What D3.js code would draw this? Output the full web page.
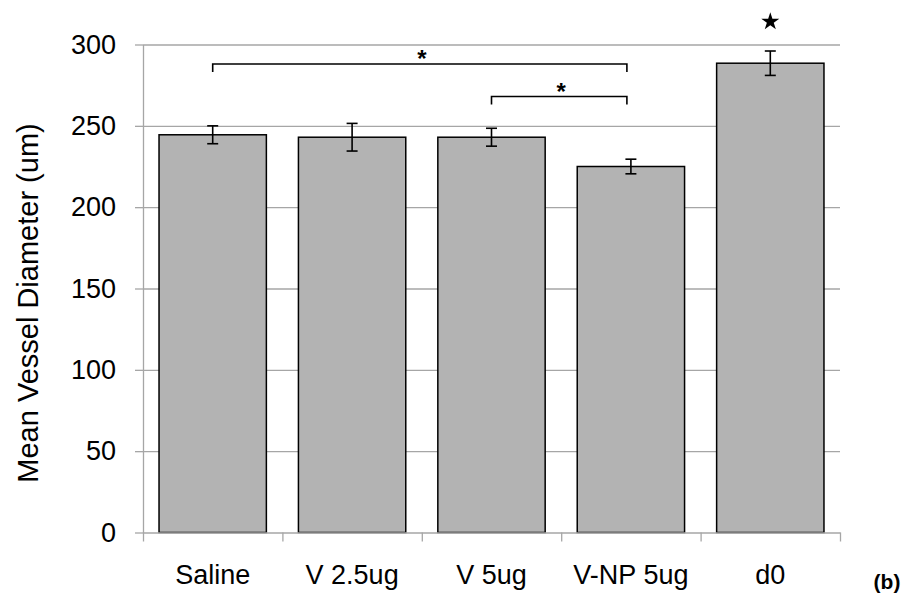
<!DOCTYPE html>
<html>
<head>
<meta charset="utf-8">
<script src="https://cdn.jsdelivr.net/npm/d3@7"></script>
<style>
  body { margin: 0; background: #fff; }
  svg { font-family: "Liberation Sans", Arial, sans-serif; }
</style>
</head>
<body>
<div id="chart"></div>
<script>
//Chart values
const categories = ["Saline", "V 2.5ug", "V 5ug", "V-NP 5ug", "d0"];
const means = [244.5, 243, 243, 225, 288.5];
const errors = [5.5, 8.5, 5.5, 4.5, 7.5];
const yTicks = [0, 50, 100, 150, 200, 250, 300];
const bracketFrom = ["Saline", "V 5ug"];
const bracketTo = ["V-NP 5ug", "V-NP 5ug"];
const bracketLevel = [288, 268];
const bracketLabel = ["*", "*"];
const starCategory = "d0";
const starLevel = 314;
const yTitle = "Mean Vessel Diameter (um)";
const panelLabel = "(b)";

const data = categories.map((c, i) => ({ name: c, mean: means[i], err: errors[i] }));

const W = 914, H = 600;
const margin = { left: 143, right: 74, top: 44.5, bottom: 67.5 };
const width = W - margin.left - margin.right;
const height = H - margin.top - margin.bottom;
const grey = "#a6a6a6";
const font = "Liberation Sans, Arial, sans-serif";

const svg = d3.select("#chart")
  .append("svg")
  .attr("width", W)
  .attr("height", H);

const g = svg.append("g")
  .attr("transform", "translate(" + margin.left + "," + margin.top + ")");

//Scales
const y = d3.scaleLinear().domain([0, 300]).range([height, 0]);
const x = d3.scaleBand()
  .domain(categories)
  .range([0, width])
  .paddingInner(0.23)
  .paddingOuter(0.115);
const xEdge = d3.scaleLinear().domain([0, categories.length]).range([0, width]);
const cx = (name) => x(name) + x.bandwidth() / 2;

//Gridlines
g.append("g")
  .attr("class", "grid")
  .call(d3.axisLeft(y).tickValues(yTicks.filter(t => t > 0)).tickSize(-width).tickFormat(""))
  .call(s => s.select(".domain").remove())
  .call(s => s.selectAll("line").attr("stroke", grey).attr("stroke-width", 1.3));

//Y axis
g.append("g")
  .attr("class", "y-axis")
  .call(d3.axisLeft(y).tickValues(yTicks).tickSize(8).tickPadding(19).tickSizeOuter(0))
  .call(s => s.select(".domain").attr("stroke", grey).attr("stroke-width", 1.3))
  .call(s => s.selectAll("line").attr("stroke", grey).attr("stroke-width", 1.3))
  .call(s => s.selectAll("text").attr("font-size", 27).attr("fill", "#000").attr("font-family", font));

//Bars
g.append("g")
  .selectAll("rect")
  .data(data)
  .enter()
  .append("rect")
  .attr("x", d => x(d.name))
  .attr("y", d => y(d.mean))
  .attr("width", x.bandwidth())
  .attr("height", d => y(0) - y(d.mean))
  .attr("fill", "#b3b3b3")
  .attr("stroke", "#000")
  .attr("stroke-width", 1.5);

//X axis (boundary ticks)
g.append("g")
  .attr("class", "x-axis")
  .attr("transform", "translate(0," + height + ")")
  .call(d3.axisBottom(xEdge).tickValues(d3.range(categories.length + 1)).tickSize(9).tickFormat("").tickSizeOuter(0))
  .call(s => s.select(".domain").attr("stroke", grey).attr("stroke-width", 1.3))
  .call(s => s.selectAll("line").attr("stroke", grey).attr("stroke-width", 1.3));

//X labels
g.append("g")
  .attr("class", "x-labels")
  .attr("transform", "translate(0," + height + ")")
  .call(d3.axisBottom(x).tickSize(0).tickPadding(32))
  .call(s => s.select(".domain").remove())
  .call(s => s.selectAll("text").attr("font-size", 27).attr("fill", "#000").attr("font-family", font));

//Error bars
const eb = g.append("g").selectAll("g").data(data).enter().append("g");
const cap = 5.5;
eb.append("line")
  .attr("x1", d => cx(d.name)).attr("x2", d => cx(d.name))
  .attr("y1", d => y(d.mean + d.err)).attr("y2", d => y(d.mean - d.err));
eb.append("line")
  .attr("x1", d => cx(d.name) - cap).attr("x2", d => cx(d.name) + cap)
  .attr("y1", d => y(d.mean + d.err)).attr("y2", d => y(d.mean + d.err));
eb.append("line")
  .attr("x1", d => cx(d.name) - cap).attr("x2", d => cx(d.name) + cap)
  .attr("y1", d => y(d.mean - d.err)).attr("y2", d => y(d.mean - d.err));
eb.selectAll("line").attr("stroke", "#000").attr("stroke-width", 1.6);

//Significance brackets
const leg = 8;
bracketFrom.forEach((from, i) => {
  const x1 = cx(from), x2 = cx(bracketTo[i]) - 4, yy = y(bracketLevel[i]);
  g.append("path")
    .attr("d", d3.line()([[x1, yy + leg], [x1, yy], [x2, yy], [x2, yy + leg]]))
    .attr("fill", "none")
    .attr("stroke", "#000")
    .attr("stroke-width", 1.6);
  g.append("text")
    .attr("x", (x1 + x2) / 2 + 2)
    .attr("y", yy + 3)
    .attr("text-anchor", "middle")
    .attr("font-size", 24)
    .attr("font-weight", "bold")
    .text(bracketLabel[i]);
});

//Star above d0
g.append("path")
  .attr("d", d3.symbol(d3.symbolStar).size(100)())
  .attr("transform", "translate(" + cx(starCategory) + "," + y(starLevel) + ")")
  .attr("fill", "#000");

//Y title
svg.append("text")
  .attr("transform", "translate(28,303) rotate(-90)")
  .attr("text-anchor", "middle")
  .attr("dominant-baseline", "central")
  .attr("font-size", 29)
  .text(yTitle);

//Panel label
svg.append("text")
  .attr("x", 887)
  .attr("y", 589)
  .attr("text-anchor", "middle")
  .attr("font-size", 21)
  .attr("font-weight", "bold")
  .text(panelLabel);
</script>
</body>
</html>
